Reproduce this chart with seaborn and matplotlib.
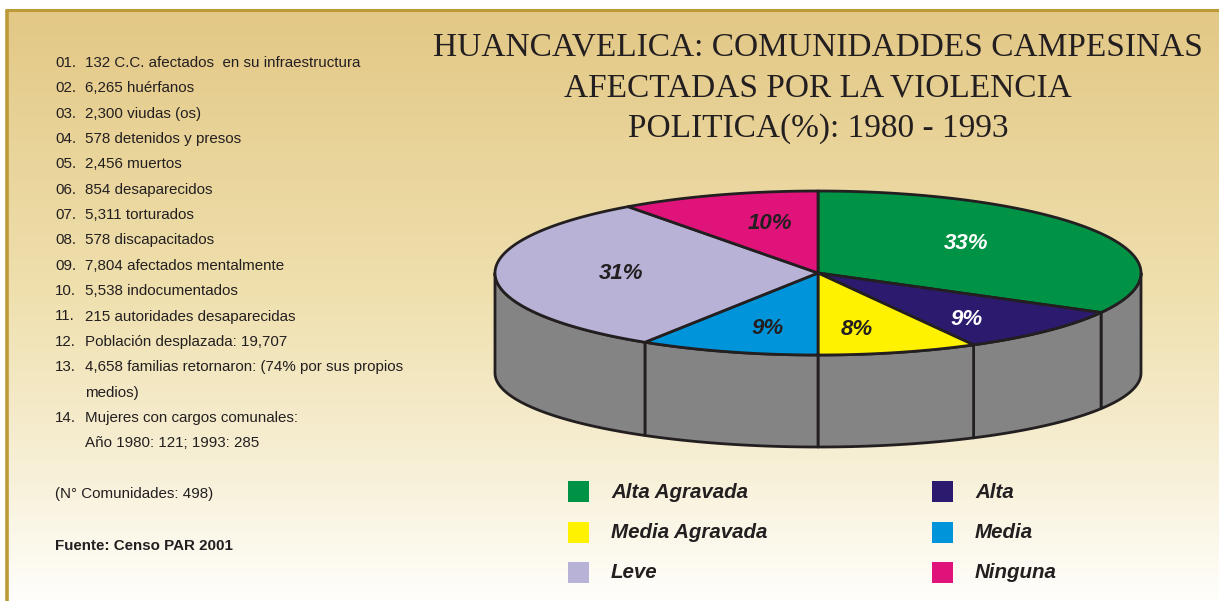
import numpy as np
import matplotlib
matplotlib.use("Agg")
import matplotlib.pyplot as plt
import seaborn as sns
from matplotlib.patches import Polygon, Rectangle
from matplotlib.colors import LinearSegmentedColormap

# ---------------- data ----------------
categories = ["Alta Agravada", "Alta", "Media Agravada", "Media", "Leve", "Ninguna"]
values = [33, 9, 8, 9, 31, 10]
slice_colors = ["#009245", "#2B1A6E", "#FFF200", "#0095DA", "#B8B2D6", "#E0137B"]
label_colors = ["white", "white", "#231F20", "#231F20", "#231F20", "#231F20"]

title_lines = ["HUANCAVELICA: COMUNIDADDES CAMPESINAS",
               "AFECTADAS POR LA VIOLENCIA",
               "POLITICA(%): 1980 - 1993"]

note_numbers = ["01.", "02.", "03.", "04.", "05.", "06.", "07.", "08.", "09.", "10.",
                "11.", "12.", "13.", "", "14.", ""]
note_texts = ["132 C.C. afectados  en su infraestructura",
              "6,265 huérfanos",
              "2,300 viudas (os)",
              "578 detenidos y presos",
              "2,456 muertos",
              "854 desaparecidos",
              "5,311 torturados",
              "578 discapacitados",
              "7,804 afectados mentalmente",
              "5,538 indocumentados",
              "215 autoridades desaparecidas",
              "Población desplazada: 19,707",
              "4,658 familias retornaron: (74% por sus propios",
              "medios)",
              "Mujeres con cargos comunales:",
              "Año 1980: 121; 1993: 285"]
total_note = "(N° Comunidades: 498)"
source_note = "Fuente: Censo PAR 2001"

# legend layout order (column-wise)
legend_order = ["Alta Agravada", "Media Agravada", "Leve", "Alta", "Media", "Ninguna"]

# ---------------- style ----------------
sns.set_theme(style="white")
plt.rcParams["font.family"] = ["Liberation Sans", "DejaVu Sans"]
ink = "#231F20"

W, H = 1219, 601
fig = plt.figure(figsize=(W / 100, H / 100), dpi=100)
ax = fig.add_axes([0, 0, 1, 1])
ax.set_xlim(0, W)
ax.set_ylim(H, 0)
ax.axis("off")

# background gradient
grad_cmap = LinearSegmentedColormap.from_list(
    "bg", [(0.0, "#E3C886"), (0.48, "#EFE0AE"), (0.8, "#F8F1DA"), (1.0, "#FFFEFB")])
grad = np.linspace(0, 1, 256).reshape(-1, 1)
ax.imshow(grad, cmap=grad_cmap, aspect="auto", extent=[7, W, H, 10], zorder=0)
ax.plot([5, W], [10, 10], color="#BC9A38", lw=2.2, zorder=1, solid_capstyle="butt")
ax.plot([7, 7], [10, H], color="#BC9A38", lw=2.6, zorder=1, solid_capstyle="butt")

# ---------------- 3D pie ----------------
cx, cy, a, b = 818, 273, 323, 82
depth, b_bot = 100, 74
side_color = "#848484"
lw = 2.0


def top_pt(t):
    return cx + a * np.cos(np.radians(t)), cy - b * np.sin(np.radians(t))


def bot_pt(t):
    return cx + a * np.cos(np.radians(t)), cy + depth - b_bot * np.sin(np.radians(t))


fracs = np.array(values, dtype=float) / np.sum(values)
starts = 90 - 360 * np.concatenate([[0], np.cumsum(fracs)[:-1]])
ends = starts - 360 * fracs

# side walls (visible front half: angles between -180 and 0)
for s, e in zip(starts, ends):
    for shift in (0, -360):
        lo, hi = max(e, -180 + shift), min(s, 0 + shift)
        if hi - lo <= 0:
            continue
        ts = np.linspace(hi, lo, 80)
        xt, yt = top_pt(ts)
        xb, yb = bot_pt(ts[::-1])
        poly = np.column_stack([np.concatenate([xt, xb]), np.concatenate([yt, yb])])
        ax.add_patch(Polygon(poly, closed=True, facecolor=side_color, edgecolor=ink,
                             lw=lw, joinstyle="round", zorder=2))

# top slices
for s, e, col in zip(starts, ends, slice_colors):
    ts = np.linspace(s, e, 200)
    xt, yt = top_pt(ts)
    poly = np.column_stack([np.concatenate([[cx], xt]), np.concatenate([[cy], yt])])
    ax.add_patch(Polygon(poly, closed=True, facecolor=col, edgecolor=ink,
                         lw=lw, joinstyle="round", zorder=3))

# percentage labels
label_r = [0.58, 0.73, 0.70, 0.70, 0.61, 0.62]
label_ang = [38, -51, -80, -103, 181, 104]
for v, r, ang, lc in zip(values, label_r, label_ang, label_colors):
    x = cx + r * a * np.cos(np.radians(ang))
    y = cy - r * b * np.sin(np.radians(ang))
    ax.text(x, y, f"{v}%", ha="center", va="center", color=lc, fontsize=16,
            fontweight="bold", fontstyle="italic", zorder=5)

# ---------------- title ----------------
for i, line in enumerate(title_lines):
    ax.text(818, 47 + 41 * i, line, ha="center", va="center", color=ink,
            fontsize=24, family=["Liberation Serif", "DejaVu Serif"], zorder=5)

# ---------------- left notes ----------------
y0, dy = 63, 25.35
fs_notes = 10.9
for i, (n, t) in enumerate(zip(note_numbers, note_texts)):
    y = y0 + dy * i
    if n:
        ax.text(55, y, n, ha="left", va="center", color=ink, fontsize=fs_notes, zorder=5)
    ax.text(85, y, t, ha="left", va="center", color=ink, fontsize=fs_notes, zorder=5)
ax.text(55, 494, total_note, ha="left", va="center", color=ink, fontsize=fs_notes, zorder=5)
ax.text(55, 546, source_note, ha="left", va="center", color=ink, fontsize=fs_notes,
        fontweight="bold", zorder=5)

# ---------------- legend ----------------
color_of = dict(zip(categories, slice_colors))
for k, name in enumerate(legend_order):
    col_i, row_i = divmod(k, 3)
    sx = 568 + 364 * col_i
    sy = 491 + 40.5 * row_i
    ax.add_patch(Rectangle((sx, sy - 10), 21, 21, facecolor=color_of[name],
                           edgecolor="none", zorder=5))
    ax.text(sx + 43, sy + 1, name, ha="left", va="center", color=ink, fontsize=14.8,
            fontweight="bold", fontstyle="italic", zorder=5)

fig.savefig("out.png", dpi=100)
